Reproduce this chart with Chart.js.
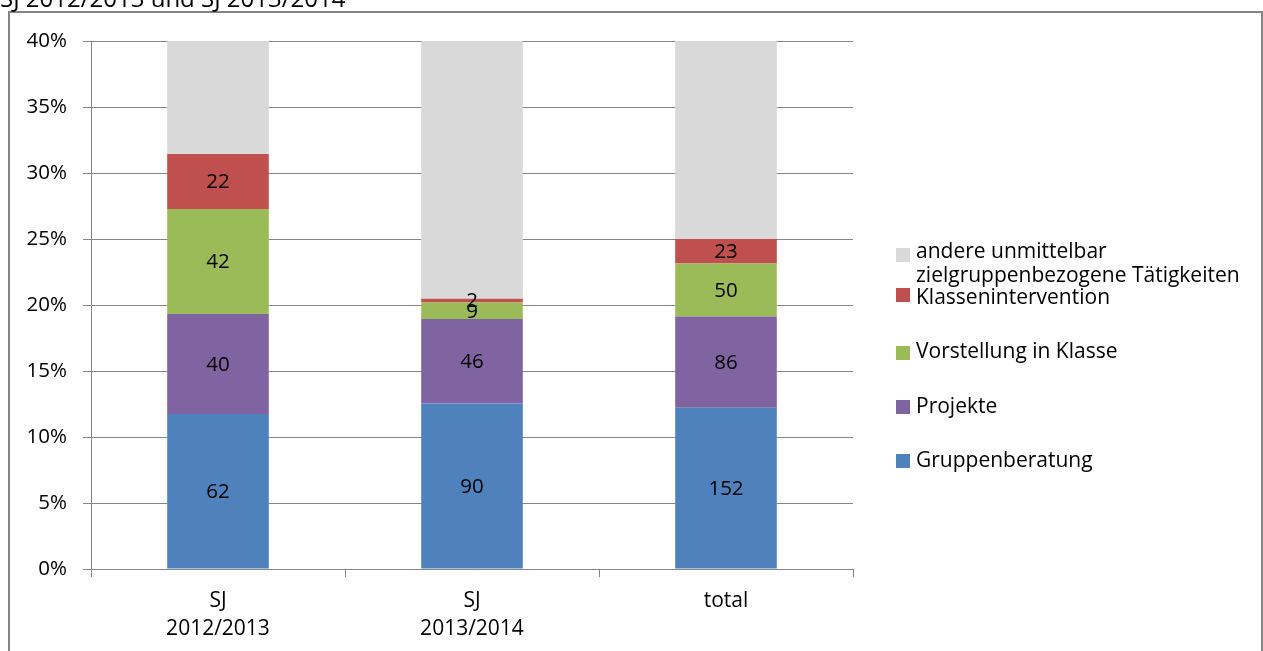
<!DOCTYPE html>
<html>
<head>
<meta charset="utf-8">
<script src="https://cdn.jsdelivr.net/npm/chart.js@4/dist/chart.umd.min.js"></script>
<style>
  html, body { margin: 0; padding: 0; background: #fff; overflow: hidden; }
</style>
</head>
<body>
<canvas id="chart" width="1263" height="651"></canvas>
<script>
const categories = [["SJ", "2012/2013"], ["SJ", "2013/2014"], "total"];
const seriesNames = [
  "Gruppenberatung",
  "Projekte",
  "Vorstellung in Klasse",
  "Klassenintervention",
  "andere unmittelbar zielgruppenbezogene Tätigkeiten",
];
const gruppenberatung = [62, 90, 152];
const projekte = [40, 46, 86];
const vorstellung = [42, 9, 50];
const klassenintervention = [22, 2, 23];
const andere = [362, 571, 933];
const yTicks = [0, 5, 10, 15, 20, 25, 30, 35, 40];

const colors = ["#4F81BD", "#8064A2", "#9BBB59", "#C0504D", "#D9D9D9"];
const FONT = "'Open Sans', sans-serif";
const GRID = "#868686";

const counts = [gruppenberatung, projekte, vorstellung, klassenintervention, andere];
const totals = categories.map((_, i) => counts.reduce((s, arr) => s + arr[i], 0));

// legend rows: first-line baseline and box top (layout only)
const legendRows = [
  { base: 258, box: 248 },
  { base: 303.5, box: 288 },
  { base: 358, box: 346 },
  { base: 412.5, box: 400 },
  { base: 467, box: 454 },
];

const decorations = {
  id: "decorations",
  beforeDraw(chart) {
    const ctx = chart.ctx;
    ctx.save();
    ctx.fillStyle = "#fff";
    ctx.fillRect(0, 0, chart.width, chart.height);
    ctx.strokeStyle = GRID;
    ctx.lineWidth = 2;
    ctx.strokeRect(9, 12, 1253, 700);
    ctx.fillStyle = "#000";
    ctx.font = "24px " + FONT;
    ctx.textBaseline = "alphabetic";
    ctx.textAlign = "left";
    ctx.fillText("SJ 2012/2013 und SJ 2013/2014", 0, 7);
    ctx.restore();
  },
  afterDatasetsDraw(chart) {
    const ctx = chart.ctx;
    const area = chart.chartArea;
    ctx.save();
    ctx.font = "20.5px " + FONT;
    ctx.fillStyle = "#000";
    ctx.textAlign = "center";
    ctx.textBaseline = "middle";
    chart.data.datasets.forEach((ds, i) => {
      chart.getDatasetMeta(i).data.forEach((bar, j) => {
        const cy = (bar.y + bar.base) / 2;
        if (cy < area.top || cy > area.bottom) return;
        ctx.fillText(String(ds.counts[j]), bar.x, cy + 1);
      });
    });
    ctx.restore();
  },
  afterDraw(chart) {
    const ctx = chart.ctx;
    ctx.save();
    ctx.font = "21px " + FONT;
    ctx.textAlign = "left";
    ctx.textBaseline = "alphabetic";
    const items = chart.data.datasets.slice().reverse();
    items.forEach((ds, k) => {
      const row = legendRows[k];
      ctx.fillStyle = ds.backgroundColor;
      ctx.fillRect(896, row.box, 14, 14);
      ctx.fillStyle = "#000";
      // wrap long labels
      const words = ds.label.split(" ");
      const lines = [];
      let cur = "";
      words.forEach((w) => {
        const t = cur ? cur + " " + w : w;
        if (ctx.measureText(t).width > 340 && cur) {
          lines.push(cur);
          cur = w;
        } else cur = t;
      });
      lines.push(cur);
      lines.forEach((l, n) => ctx.fillText(l, 916, row.base + n * 24));
    });
    ctx.restore();
  },
};

new Chart(document.getElementById("chart"), {
  type: "bar",
  data: {
    labels: categories,
    datasets: counts.map((arr, i) => ({
      label: seriesNames[i],
      counts: arr,
      data: arr.map((v, j) => (v / totals[j]) * 100),
      backgroundColor: colors[i],
      borderWidth: 0,
      barPercentage: 0.4,
      categoryPercentage: 1,
    })),
  },
  options: {
    responsive: false,
    animation: false,
    layout: { padding: { top: 41, right: 410, left: 0, bottom: 0 } },
    plugins: {
      legend: { display: false },
      title: { display: false },
      tooltip: { enabled: false },
    },
    scales: {
      x: {
        stacked: true,
        ticks: {
          color: "#000",
          padding: 10,
          maxRotation: 0,
          autoSkip: false,
          font: { family: FONT, size: 21, lineHeight: 1.33 },
        },
        grid: { drawOnChartArea: false, tickLength: 8, color: GRID },
        border: { color: GRID },
        afterFit: (s) => { s.height = 82; },
      },
      y: {
        stacked: true,
        min: yTicks[0],
        max: yTicks[yTicks.length - 1],
        afterBuildTicks: (s) => { s.ticks = yTicks.map((v) => ({ value: v })); },
        ticks: {
          color: "#000",
          padding: 16,
          font: { family: FONT, size: 20.5 },
          callback: (v) => v + "%",
        },
        grid: { color: GRID, tickLength: 8 },
        border: { color: GRID },
        afterFit: (s) => { s.width = 91; },
      },
    },
  },
  plugins: [decorations],
});
</script>
</body>
</html>
